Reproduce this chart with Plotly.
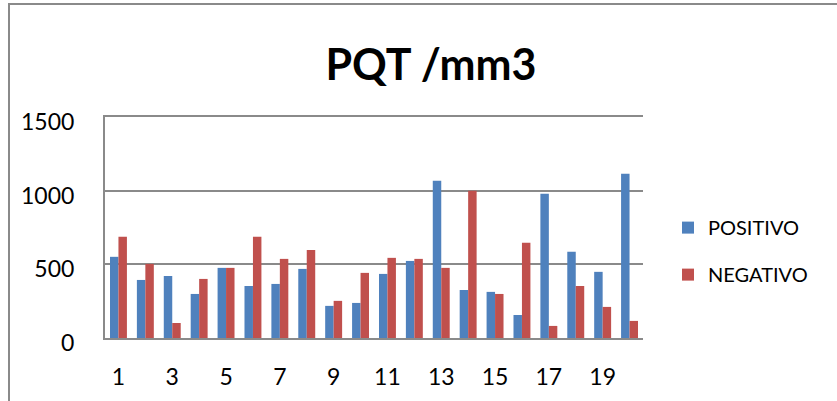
import plotly.graph_objects as go

categories = [str(i) for i in range(1, 21)]
positivo = [551, 394, 421, 299, 476, 353, 367, 469, 218, 238,
            435, 523, 1067, 326, 313, 156, 979, 585, 449, 1115]
negativo = [687, 503, 102, 401, 476, 687, 537, 598, 252, 442,
            544, 537, 476, 999, 299, 646, 82, 353, 211, 116]
tick_labels = [str(i) for i in range(1, 21, 2)]
y_ticks = [0, 500, 1000, 1500]

FONT = "Lato"
W, H = 837, 401
L, R, T, B = 105, 194, 117, 63
pw, ph = W - L - R, H - T - B

fig = go.Figure()
fig.add_trace(go.Bar(x=categories, y=positivo, name="POSITIVO",
                     marker=dict(color="#4F81BD", line=dict(width=0)),
                     legendgroup="a"))
fig.add_trace(go.Bar(x=categories, y=negativo, name="NEGATIVO",
                     marker=dict(color="#C0504D", line=dict(width=0)),
                     legendgroup="b"))

fig.update_layout(
    width=W, height=H,
    margin=dict(l=L, r=R, t=T, b=B, pad=0),
    paper_bgcolor="white", plot_bgcolor="white",
    barmode="group", bargap=0.37, bargroupgap=0,
    font=dict(family=FONT, color="black"),
    title=dict(text="<b>PQT /mm3</b>", x=(431 - L) / pw, xref="paper",
               xanchor="center", y=1 - 65 / H, yanchor="middle",
               font=dict(family=FONT, size=43, color="black")),
    showlegend=True,
    legend=dict(x=(668 - L) / pw, xanchor="left", y=1 - (228 - T) / ph + 0.09,
                yanchor="top", traceorder="grouped", tracegroupgap=18,
                font=dict(family=FONT, size=20, color="black"),
                bgcolor="rgba(0,0,0,0)", itemwidth=30),
    xaxis=dict(type="category", tickmode="array", tickvals=tick_labels,
               ticktext=tick_labels, showgrid=False, showline=True,
               mirror=True,
               linecolor="#8a8a8a", linewidth=2, ticks="",
               tickfont=dict(family=FONT, size=23, color="black"),
               ticklabelstandoff=17, zeroline=False),
    yaxis=dict(range=[0, 1500], tickvals=y_ticks, showgrid=True,
               gridcolor="#8a8a8a", gridwidth=2, showline=True,
               linecolor="#8a8a8a", linewidth=2, ticks="",
               zeroline=False,
               tickfont=dict(family=FONT, size=23, color="black"),
               ticklabelstandoff=24, ticklabelshift=5),
    shapes=[dict(type="rect", xref="paper", yref="paper",
                 x0=(9 - L) / pw, x1=(W + 20 - L) / pw,
                 y0=-(H + 20 - T - ph) / ph, y1=(H - B - 4) / ph,
                 line=dict(color="#8a8a8a", width=2),
                 fillcolor="rgba(0,0,0,0)", layer="below")],
)

fig.write_html("out.html")
